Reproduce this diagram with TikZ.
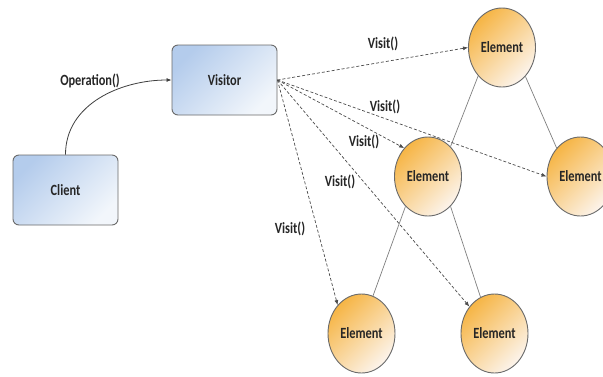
\documentclass[tikz,border=0pt]{standalone}
\usepackage{fontspec}
\usepackage{graphicx}
\setmainfont{Carlito}
\usetikzlibrary{shapes.geometric,arrows.meta}
\definecolor{boxA}{HTML}{B4CCEC}
\definecolor{boxB}{HTML}{F2F6FB}
\definecolor{elA}{HTML}{F6B545}
\definecolor{elB}{HTML}{FCF4EC}
\definecolor{edgeC}{HTML}{6A6A6A}
\definecolor{txtC}{HTML}{262626}
\newcommand{\talltxt}[1]{\scalebox{0.95}[1.2]{#1}}
\tikzset{
  lbl/.style={font=\bfseries\fontsize{13}{15}\selectfont, text=txtC, inner sep=0pt},
  boxnode/.style={draw=edgeC, line width=0.9pt, rounded corners=6pt, minimum width=105pt, minimum height=70pt,
    top color=boxA, bottom color=boxB, shading angle=45, font=\bfseries\fontsize{13}{15}\selectfont, text=txtC},
  elnode/.style={ellipse, draw=edgeC, line width=0.9pt, minimum width=67pt, minimum height=79pt, inner sep=0pt,
    top color=elA, bottom color=elB, shading angle=45, font=\bfseries\fontsize{13}{15}\selectfont, text=txtC},
  visitarrow/.style={draw=black!70, line width=0.7pt, dash pattern=on 3pt off 2pt, -{Latex[length=5pt,width=4pt]}},
  tree/.style={draw=black!50, line width=0.7pt},
  callarrow/.style={draw=black!75, line width=0.8pt, -{Latex[length=5pt,width=4pt]}}
}
\begin{document}
\begin{tikzpicture}[x=1pt,y=-1pt]
\useasboundingbox (0,0) rectangle (603,376);
\clip (0,0) rectangle (603,376);
\fill[white] (0,0) rectangle (603,376);
\node[boxnode] (cl) at (65.5,190) {\talltxt{Client}};
\node[boxnode] (vis) at (224.5,80) {\talltxt{Visitor}};
\node[elnode] (e1) at (502,47.5) {\talltxt{Element}};
\node[elnode] (e2) at (428,176.5) {\talltxt{Element}};
\node[elnode] (e3) at (580.5,176.5) {\talltxt{Element}};
\node[elnode] (e4) at (361.5,333.5) {\talltxt{Element}};
\node[elnode] (e5) at (494.5,333.5) {\talltxt{Element}};
\draw[callarrow] (cl.north) to[out=90,in=180] (vis.west);
\node[lbl] (op) at (90,81) {\talltxt{Operation()}};
\draw[tree] (e1.230) -- (e2.53);
\draw[tree] (e1.-51) -- (e3.130);
\draw[tree] (e2.233) -- (e4.73);
\draw[tree] (e2.-53) -- (e5.111);
\draw[visitarrow] (vis.east) -- (e1.west);
\draw[visitarrow] (vis.east) -- (e3.west);
\draw[visitarrow] (vis.east) -- (e2.130);
\draw[visitarrow] (vis.east) -- (e5.133);
\draw[visitarrow] (vis.east) -- (e4.130);
\node[lbl] (v1) at (383,44) {\talltxt{Visit()}};
\node[lbl] (v2) at (385,107) {\talltxt{Visit()}};
\node[lbl] (v3) at (364,142) {\talltxt{Visit()}};
\node[lbl] (v4) at (340,182) {\talltxt{Visit()}};
\node[lbl] (v5) at (290,229) {\talltxt{Visit()}};
\end{tikzpicture}
\end{document}
